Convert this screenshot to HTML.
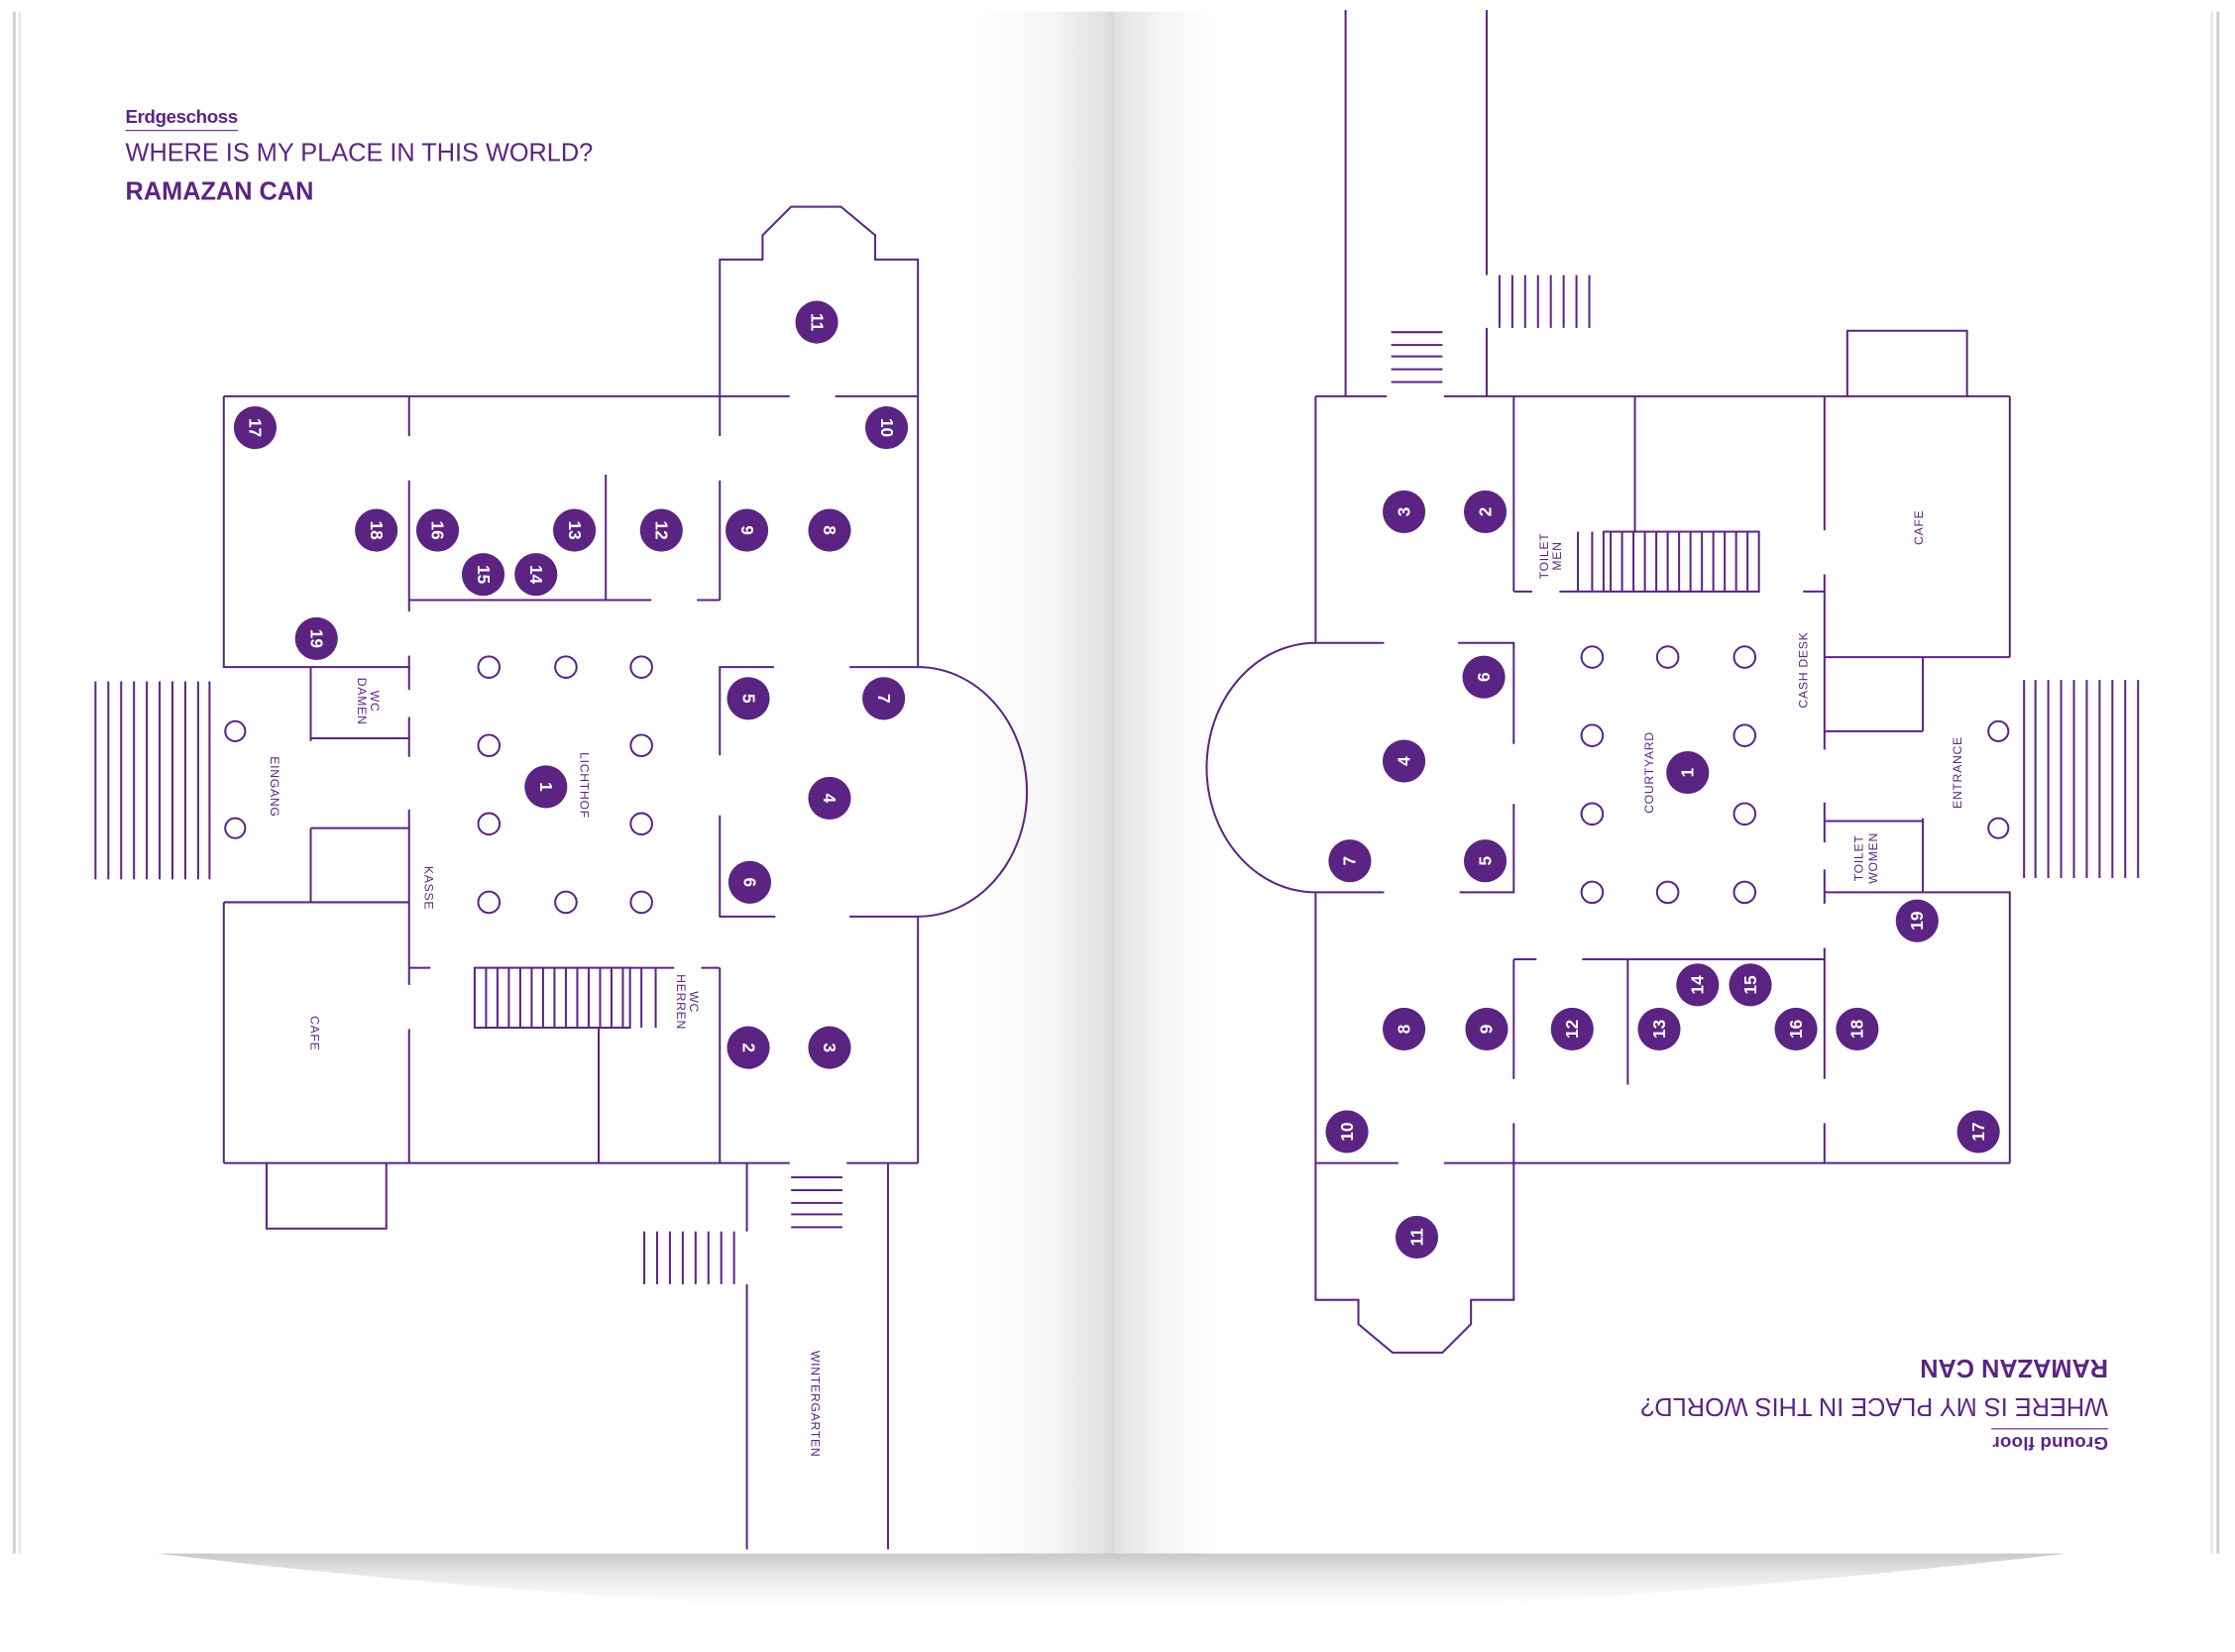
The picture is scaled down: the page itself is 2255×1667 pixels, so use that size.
<!DOCTYPE html>
<html><head><meta charset="utf-8"><style>
html,body{margin:0;padding:0;background:#fff;}
svg{display:block}
text{font-family:"Liberation Sans",sans-serif;fill:#5b2483}
</style></head><body>
<svg width="2255" height="1667" viewBox="0 0 1568 1159" xmlns="http://www.w3.org/2000/svg">
<defs>
<linearGradient id="fold" x1="0" x2="1" y1="0" y2="0">
<stop offset="0" stop-color="#fff"/>
<stop offset="0.55" stop-color="#f6f6f6"/>
<stop offset="0.93" stop-color="#e0e0e0"/>
<stop offset="0.97" stop-color="#d8d8d8"/>
<stop offset="1" stop-color="#e8e8e8"/>
</linearGradient>
<linearGradient id="fold2" x1="0" x2="1" y1="0" y2="0">
<stop offset="0" stop-color="#e2e2e2"/>
<stop offset="0.4" stop-color="#f4f4f4"/>
<stop offset="1" stop-color="#fff"/>
</linearGradient>
<linearGradient id="sh" x1="0" x2="0" y1="0" y2="1">
<stop offset="0" stop-color="#c8c8c8"/>
<stop offset="1" stop-color="#fff" stop-opacity="0"/>
</linearGradient>
<g id="plan" fill="none" stroke="#5b2483" stroke-width="1.4">
<path d="M505,278 V182 H535 V165 L555,145 H590 L614,165 V182 H644 V468"/>
<path d="M157,278 H554 M586,278 H644"/>
<path d="M157,278 V468 H287"/>
<path d="M287,278 V306 M287,337 V429 M287,460 V484 M287,503 V531 M287,568 V691 M287,722 V816 M287,679 H302"/>
<path d="M287,421 H457 M489,421 H505 M425,333 V421"/>
<path d="M505,278 V306 M505,337 V421 M505,530 V468 H543 M596,468 H644"/>
<path d="M644,468 A76,87 0 0 1 644,643"/>
<path d="M505,572 V643 H544 M596,643 H644 V816"/>
<path d="M505,679 V816 M492,679 H505"/>
<path d="M157,816 H554 M594,816 H644"/>
<path d="M187,816 V862 H271 V816"/>
<path d="M524,816 V864 M524,901 V1087 M623,816 V1087"/>
<path d="M218,468 V520 M218,518 H287 M218,581 H287 M218,581 V633 M157,633 H287 M157,633 V816"/>
<rect x="333" y="679" width="109" height="42"/>
<path d="M442,679 H473 M450,679 V721 M460,679 V721 M420,721 V816"/>
<path d="M341,679V721M349,679V721M357,679V721M365,679V721M373,679V721M381,679V721M389,679V721M397,679V721M405,679V721M413,679V721M421,679V721M429,679V721M437,679V721"/>
<path d="M555,826H591M555,835H591M555,844H591M555,852H591M555,861H591"/>
<path d="M452,864V901M461,864V901M470,864V901M479,864V901M488,864V901M497,864V901M506,864V901M515,864V901"/>
<path d="M67,478V617M76,478V617M85,478V617M94,478V617M103,478V617M112,478V617M121,478V617M130,478V617M139,478V617M147,478V617"/>
<circle cx="165" cy="513" r="7"/><circle cx="165" cy="581" r="7"/>
<circle cx="343" cy="468" r="7.5"/><circle cx="397" cy="468" r="7.5"/><circle cx="450" cy="468" r="7.5"/>
<circle cx="343" cy="523" r="7.5"/><circle cx="450" cy="523" r="7.5"/>
<circle cx="343" cy="578" r="7.5"/><circle cx="450" cy="578" r="7.5"/>
<circle cx="343" cy="633" r="7.5"/><circle cx="397" cy="633" r="7.5"/><circle cx="450" cy="633" r="7.5"/>
</g>
<g id="marks" font-family="Liberation Sans,sans-serif" font-weight="bold" font-size="12">
<g transform="translate(179,300) rotate(90)"><circle r="15" fill="#5b2483"/><text y="4" text-anchor="middle" style="fill:#fff">17</text></g>
<g transform="translate(573,226) rotate(90)"><circle r="15" fill="#5b2483"/><text y="4" text-anchor="middle" style="fill:#fff">11</text></g>
<g transform="translate(622,300) rotate(90)"><circle r="15" fill="#5b2483"/><text y="4" text-anchor="middle" style="fill:#fff">10</text></g>
<g transform="translate(264,372) rotate(90)"><circle r="15" fill="#5b2483"/><text y="4" text-anchor="middle" style="fill:#fff">18</text></g>
<g transform="translate(307,372) rotate(90)"><circle r="15" fill="#5b2483"/><text y="4" text-anchor="middle" style="fill:#fff">16</text></g>
<g transform="translate(339,403) rotate(90)"><circle r="15" fill="#5b2483"/><text y="4" text-anchor="middle" style="fill:#fff">15</text></g>
<g transform="translate(376,403) rotate(90)"><circle r="15" fill="#5b2483"/><text y="4" text-anchor="middle" style="fill:#fff">14</text></g>
<g transform="translate(403,372) rotate(90)"><circle r="15" fill="#5b2483"/><text y="4" text-anchor="middle" style="fill:#fff">13</text></g>
<g transform="translate(464,372) rotate(90)"><circle r="15" fill="#5b2483"/><text y="4" text-anchor="middle" style="fill:#fff">12</text></g>
<g transform="translate(524,372) rotate(90)"><circle r="15" fill="#5b2483"/><text y="4" text-anchor="middle" style="fill:#fff">9</text></g>
<g transform="translate(582,372) rotate(90)"><circle r="15" fill="#5b2483"/><text y="4" text-anchor="middle" style="fill:#fff">8</text></g>
<g transform="translate(222,448) rotate(90)"><circle r="15" fill="#5b2483"/><text y="4" text-anchor="middle" style="fill:#fff">19</text></g>
<g transform="translate(525,490) rotate(90)"><circle r="15" fill="#5b2483"/><text y="4" text-anchor="middle" style="fill:#fff">5</text></g>
<g transform="translate(620,490) rotate(90)"><circle r="15" fill="#5b2483"/><text y="4" text-anchor="middle" style="fill:#fff">7</text></g>
<g transform="translate(383,552) rotate(90)"><circle r="15" fill="#5b2483"/><text y="4" text-anchor="middle" style="fill:#fff">1</text></g>
<g transform="translate(582,560) rotate(90)"><circle r="15" fill="#5b2483"/><text y="4" text-anchor="middle" style="fill:#fff">4</text></g>
<g transform="translate(526,619) rotate(90)"><circle r="15" fill="#5b2483"/><text y="4" text-anchor="middle" style="fill:#fff">6</text></g>
<g transform="translate(525,735) rotate(90)"><circle r="15" fill="#5b2483"/><text y="4" text-anchor="middle" style="fill:#fff">2</text></g>
<g transform="translate(582,735) rotate(90)"><circle r="15" fill="#5b2483"/><text y="4" text-anchor="middle" style="fill:#fff">3</text></g>
</g>
</defs>
<!-- pages -->
<rect x="10" y="8" width="774" height="1082" fill="#fff"/>
<rect x="784" y="8" width="772" height="1082" fill="#fff"/>
<rect x="680" y="8" width="104" height="1082" fill="url(#fold)"/>
<rect x="784" y="8" width="70" height="1082" fill="url(#fold2)"/>
<rect x="9" y="8" width="2" height="1082" fill="#cfcfcf"/>
<rect x="13" y="8" width="1.5" height="1082" fill="#e3e3e3"/>
<rect x="1555" y="8" width="2" height="1082" fill="#cfcfcf"/>
<rect x="1551" y="8" width="1.5" height="1082" fill="#e3e3e3"/>
<path d="M110,1090 H1450 Q1100,1130 780,1135 Q450,1130 110,1090Z" fill="url(#sh)"/>

<!-- left page -->
<text x="88" y="86" font-size="13" font-weight="bold" textLength="79">Erdgeschoss</text>
<line x1="88" y1="91.5" x2="167" y2="91.5" stroke="#5b2483" stroke-width="0.8"/>
<text x="88" y="113" font-size="18" textLength="328" lengthAdjust="spacingAndGlyphs">WHERE IS MY PLACE IN THIS WORLD?</text>
<text x="88" y="140" font-size="18" font-weight="bold" textLength="132" lengthAdjust="spacingAndGlyphs">RAMAZAN CAN</text>
<use href="#plan"/>
<use href="#marks"/>
<g font-size="8.5" text-anchor="middle" letter-spacing="0.5">
<text transform="translate(260,492) rotate(90)">WC</text>
<text transform="translate(251,492) rotate(90)">DAMEN</text>
<text transform="translate(190,552) rotate(90)">EINGANG</text>
<text transform="translate(407,551) rotate(90)">LICHTHOF</text>
<text transform="translate(298,623) rotate(90)">KASSE</text>
<text transform="translate(218,725) rotate(90)">CAFE</text>
<text transform="translate(484,703) rotate(90)">WC</text>
<text transform="translate(475,703) rotate(90)">HERREN</text>
<text transform="translate(569,985) rotate(90)">WINTERGARTEN</text>
</g>

<!-- right page -->
<g transform="rotate(180 783.5 547)">
<use href="#plan"/>
<use href="#marks"/>
<text x="88" y="86" font-size="13" font-weight="bold" textLength="81">Ground floor</text>
<line x1="88" y1="91.5" x2="170" y2="91.5" stroke="#5b2483" stroke-width="0.8"/>
<text x="88" y="113" font-size="18" textLength="328" lengthAdjust="spacingAndGlyphs">WHERE IS MY PLACE IN THIS WORLD?</text>
<text x="88" y="140" font-size="18" font-weight="bold" textLength="132" lengthAdjust="spacingAndGlyphs">RAMAZAN CAN</text>
</g>
<g font-size="8.5" text-anchor="middle" letter-spacing="0.5">
<text transform="translate(1086,390) rotate(-90)">TOILET</text>
<text transform="translate(1095,390) rotate(-90)">MEN</text>
<text transform="translate(1349,370) rotate(-90)">CAFE</text>
<text transform="translate(1268,470) rotate(-90)">CASH DESK</text>
<text transform="translate(1160,542) rotate(-90)">COURTYARD</text>
<text transform="translate(1376,542) rotate(-90)">ENTRANCE</text>
<text transform="translate(1307,602) rotate(-90)">TOILET</text>
<text transform="translate(1317,602) rotate(-90)">WOMEN</text>
</g>
</svg>
</body></html>
